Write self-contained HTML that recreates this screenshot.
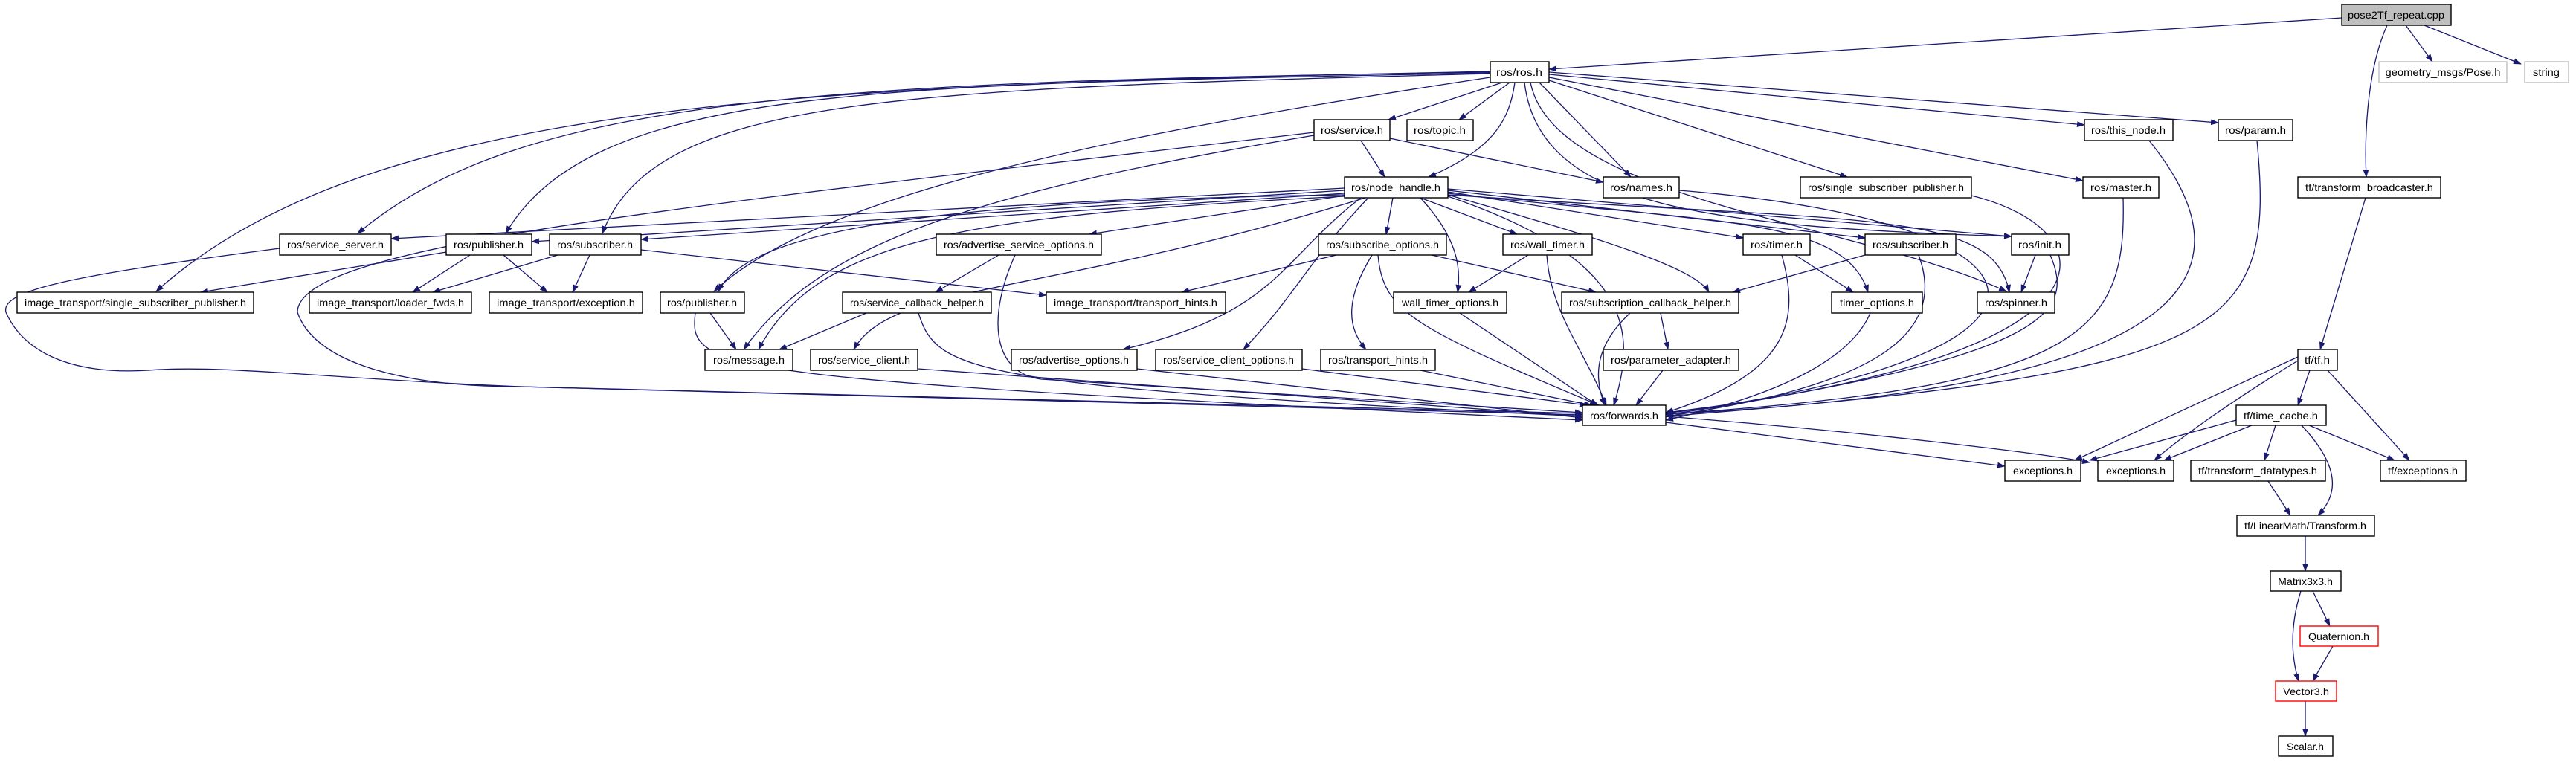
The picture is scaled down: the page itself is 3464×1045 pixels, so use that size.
<!DOCTYPE html>
<html><head><meta charset="utf-8"><style>
html,body{margin:0;padding:0;background:#fff}
svg{display:block}
.e{fill:none;stroke:#191970;stroke-width:1.3}
.n{fill:#fff;stroke:#000;stroke-width:1.4}
text{font-family:"Liberation Sans",sans-serif;font-size:14px;fill:#000;text-anchor:middle}
</style></head><body>
<svg width="3464" height="1045" viewBox="0 0 3464 1045" xmlns="http://www.w3.org/2000/svg">
<defs><marker id="a" markerWidth="11" markerHeight="8" refX="10" refY="4" orient="auto" markerUnits="userSpaceOnUse"><path d="M0,0 L11,4 L0,8 z" fill="#191970"/></marker></defs>
<g class="e" marker-end="url(#a)">
<path d="M3149 24 L2083 93"/>
<path d="M3235 34 L3271 83"/>
<path d="M3260 34 L3390 86"/>
<path d="M3210 34 C3180 100 3180 200 3182 238"/>
<path d="M2004 97 C1100 110 700 130 481 314"/>
<path d="M2004 96 C1100 115 500 130 210 392"/>
<path d="M2004 98 C1200 115 800 110 680 314"/>
<path d="M2004 99 C1200 120 880 130 810 314"/>
<path d="M2004 104 C1500 180 1100 260 960 392"/>
<path d="M2020 111 L1867 161"/>
<path d="M2030 111 L1962 161"/>
<path d="M2037 111 C2030 160 2010 200 1921 238"/>
<path d="M2070 111 L2193 238"/>
<path d="M2083 100 L2803 168"/>
<path d="M2083 97 L2983 165"/>
<path d="M2083 108 L2484 238"/>
<path d="M2083 104 L2801 243"/>
<path d="M2050 111 C2070 280 2300 305 2705 318"/>
<path d="M2058 111 C2090 270 2500 300 2698 392"/>
<path d="M1830 189 L1862 238"/>
<path d="M1869 186 L2156 245"/>
<path d="M1767 178 C900 280 400 330 400 420 C420 480 520 520 700 520 L2128 556"/>
<path d="M376 334 C100 370 0 390 8 420 C30 470 90 505 200 498 C300 490 450 510 700 520 L2128 558"/>
<path d="M1767 182 C1300 260 1100 330 1000 470"/>
<path d="M600 339 L270 393"/>
<path d="M632 343 L555 393"/>
<path d="M677 343 L736 393"/>
<path d="M750 343 L582 393"/>
<path d="M793 343 L770 393"/>
<path d="M862 336 L1407 397"/>
<path d="M1808 253 L526 321"/>
<path d="M1808 256 L715 325"/>
<path d="M1808 260 L862 322"/>
<path d="M1808 262 C1200 270 1000 320 966 392"/>
<path d="M1808 264 C1300 290 1100 320 1020 470"/>
<path d="M1808 263 L1465 315"/>
<path d="M1873 266 L1864 315"/>
<path d="M1910 266 L2040 315"/>
<path d="M1910 266 C1960 320 1965 360 1960 393"/>
<path d="M1836 266 C1400 400 1200 380 1148 470"/>
<path d="M1830 266 C1720 350 1720 420 1510 470"/>
<path d="M1840 266 C1760 350 1740 400 1672 470"/>
<path d="M1947 262 C2150 320 2280 360 2298 393"/>
<path d="M1947 264 C2200 350 2200 450 2170 545"/>
<path d="M1947 258 L2344 320"/>
<path d="M1947 256 L2508 320"/>
<path d="M1947 254 L2705 318"/>
<path d="M1947 262 C2500 300 2680 280 2702 393"/>
<path d="M1947 260 C2300 300 2480 290 2512 393"/>
<path d="M1343 343 L1258 393"/>
<path d="M1365 343 C1330 420 1330 500 1400 510 L2128 555"/>
<path d="M1797 343 L1589 393"/>
<path d="M1925 343 L2146 393"/>
<path d="M1845 343 C1810 400 1810 440 1837 470"/>
<path d="M1853 343 C1860 420 1900 440 2150 545"/>
<path d="M2055 343 L1975 393"/>
<path d="M2080 343 C2085 420 2130 470 2160 545"/>
<path d="M1963 421 L2148 545"/>
<path d="M1165 421 L1048 470"/>
<path d="M1235 421 C1260 500 1300 520 2128 560"/>
<path d="M955 421 L990 470"/>
<path d="M935 421 C925 500 960 510 2128 565"/>
<path d="M1234 496 L2128 560"/>
<path d="M1529 496 L2128 562"/>
<path d="M1751 496 L2134 545"/>
<path d="M1910 498 L2140 545"/>
<path d="M2233 421 L2243 470"/>
<path d="M2192 421 C2150 460 2140 500 2158 545"/>
<path d="M2236 498 L2200 545"/>
<path d="M2414 343 L2492 393"/>
<path d="M2396 343 C2420 430 2410 500 2240 555"/>
<path d="M2508 343 L2330 393"/>
<path d="M2580 343 C2620 450 2520 520 2240 560"/>
<path d="M2515 421 C2490 480 2400 530 2240 565"/>
<path d="M2737 343 L2718 393"/>
<path d="M2757 343 C2790 420 2760 480 2240 558"/>
<path d="M2651 263 C2840 310 2870 480 2240 555"/>
<path d="M2855 266 C2860 450 2800 520 2240 557"/>
<path d="M2890 189 C3020 350 3000 520 2240 557"/>
<path d="M3035 189 C3060 450 3000 500 2240 560"/>
<path d="M2258 256 C2800 300 2830 480 2240 556"/>
<path d="M2240 568 L2696 627"/>
<path d="M2240 560 C2500 580 2750 610 2810 622"/>
<path d="M3181 266 L3120 470"/>
<path d="M3090 480 L2790 619"/>
<path d="M3090 485 C3000 540 2930 590 2897 619"/>
<path d="M3106 498 L3090 545"/>
<path d="M3130 498 L3240 619"/>
<path d="M3007 565 L2810 619"/>
<path d="M3028 572 L2910 619"/>
<path d="M3060 572 L3045 619"/>
<path d="M3105 572 L3220 619"/>
<path d="M3095 572 C3140 620 3150 660 3117 693"/>
<path d="M3050 647 L3080 693"/>
<path d="M3100 721 L3100 768"/>
<path d="M3110 795 L3133 842"/>
<path d="M3094 795 C3080 840 3080 880 3091 916"/>
<path d="M3137 869 L3110 916"/>
<path d="M3100 943 L3100 990"/>
</g>
<g>
<rect x="3149" y="6" width="147" height="28" fill="#bfbfbf" stroke="#000" stroke-width="1.4"/><text x="3222" y="25" textLength="130" lengthAdjust="spacingAndGlyphs">pose2Tf_repeat.cpp</text>
<rect x="3199" y="83" width="172" height="28" fill="#fff" stroke="#bfbfbf" stroke-width="1.4"/><text x="3285" y="102" textLength="155" lengthAdjust="spacingAndGlyphs">geometry_msgs/Pose.h</text>
<rect x="3395" y="83" width="59" height="28" fill="#fff" stroke="#bfbfbf" stroke-width="1.4"/><text x="3424" y="102" textLength="36" lengthAdjust="spacingAndGlyphs">string</text>
<rect class="n" x="2004" y="83" width="79" height="28"/><text x="2043" y="102" textLength="62" lengthAdjust="spacingAndGlyphs">ros/ros.h</text>
<rect class="n" x="1767" y="161" width="102" height="28"/><text x="1818" y="180" textLength="84" lengthAdjust="spacingAndGlyphs">ros/service.h</text>
<rect class="n" x="1892" y="161" width="89" height="28"/><text x="1936" y="180" textLength="70" lengthAdjust="spacingAndGlyphs">ros/topic.h</text>
<rect class="n" x="2803" y="161" width="119" height="28"/><text x="2862" y="180" textLength="100" lengthAdjust="spacingAndGlyphs">ros/this_node.h</text>
<rect class="n" x="2983" y="161" width="100" height="28"/><text x="3033" y="180" textLength="82" lengthAdjust="spacingAndGlyphs">ros/param.h</text>
<rect class="n" x="1808" y="238" width="139" height="28"/><text x="1877" y="257" textLength="120" lengthAdjust="spacingAndGlyphs">ros/node_handle.h</text>
<rect class="n" x="2156" y="238" width="102" height="28"/><text x="2207" y="257" textLength="84" lengthAdjust="spacingAndGlyphs">ros/names.h</text>
<rect class="n" x="2421" y="238" width="230" height="28"/><text x="2536" y="257" textLength="210" lengthAdjust="spacingAndGlyphs">ros/single_subscriber_publisher.h</text>
<rect class="n" x="2801" y="238" width="102" height="28"/><text x="2852" y="257" textLength="82" lengthAdjust="spacingAndGlyphs">ros/master.h</text>
<rect class="n" x="3090" y="238" width="192" height="28"/><text x="3186" y="257" textLength="172" lengthAdjust="spacingAndGlyphs">tf/transform_broadcaster.h</text>
<rect class="n" x="376" y="315" width="150" height="28"/><text x="451" y="334" textLength="130" lengthAdjust="spacingAndGlyphs">ros/service_server.h</text>
<rect class="n" x="600" y="315" width="115" height="28"/><text x="657" y="334" textLength="94" lengthAdjust="spacingAndGlyphs">ros/publisher.h</text>
<rect class="n" x="739" y="315" width="123" height="28"/><text x="800" y="334" textLength="102" lengthAdjust="spacingAndGlyphs">ros/subscriber.h</text>
<rect class="n" x="1259" y="315" width="222" height="28"/><text x="1370" y="334" textLength="202" lengthAdjust="spacingAndGlyphs">ros/advertise_service_options.h</text>
<rect class="n" x="1773" y="315" width="172" height="28"/><text x="1859" y="334" textLength="152" lengthAdjust="spacingAndGlyphs">ros/subscribe_options.h</text>
<rect class="n" x="2021" y="315" width="120" height="28"/><text x="2081" y="334" textLength="100" lengthAdjust="spacingAndGlyphs">ros/wall_timer.h</text>
<rect class="n" x="2344" y="315" width="90" height="28"/><text x="2389" y="334" textLength="70" lengthAdjust="spacingAndGlyphs">ros/timer.h</text>
<rect class="n" x="2508" y="315" width="122" height="28"/><text x="2569" y="334" textLength="102" lengthAdjust="spacingAndGlyphs">ros/subscriber.h</text>
<rect class="n" x="2705" y="315" width="77" height="28"/><text x="2743" y="334" textLength="58" lengthAdjust="spacingAndGlyphs">ros/init.h</text>
<rect class="n" x="23" y="393" width="318" height="28"/><text x="182" y="412" textLength="298" lengthAdjust="spacingAndGlyphs">image_transport/single_subscriber_publisher.h</text>
<rect class="n" x="416" y="393" width="218" height="28"/><text x="525" y="412" textLength="198" lengthAdjust="spacingAndGlyphs">image_transport/loader_fwds.h</text>
<rect class="n" x="658" y="393" width="206" height="28"/><text x="761" y="412" textLength="186" lengthAdjust="spacingAndGlyphs">image_transport/exception.h</text>
<rect class="n" x="888" y="393" width="113" height="28"/><text x="944" y="412" textLength="94" lengthAdjust="spacingAndGlyphs">ros/publisher.h</text>
<rect class="n" x="1133" y="393" width="200" height="28"/><text x="1233" y="412" textLength="180" lengthAdjust="spacingAndGlyphs">ros/service_callback_helper.h</text>
<rect class="n" x="1407" y="393" width="241" height="28"/><text x="1527" y="412" textLength="220" lengthAdjust="spacingAndGlyphs">image_transport/transport_hints.h</text>
<rect class="n" x="1874" y="393" width="152" height="28"/><text x="1950" y="412" textLength="130" lengthAdjust="spacingAndGlyphs">wall_timer_options.h</text>
<rect class="n" x="2100" y="393" width="238" height="28"/><text x="2219" y="412" textLength="218" lengthAdjust="spacingAndGlyphs">ros/subscription_callback_helper.h</text>
<rect class="n" x="2463" y="393" width="122" height="28"/><text x="2524" y="412" textLength="100" lengthAdjust="spacingAndGlyphs">timer_options.h</text>
<rect class="n" x="2659" y="393" width="104" height="28"/><text x="2711" y="412" textLength="84" lengthAdjust="spacingAndGlyphs">ros/spinner.h</text>
<rect class="n" x="948" y="470" width="118" height="28"/><text x="1007" y="489" textLength="96" lengthAdjust="spacingAndGlyphs">ros/message.h</text>
<rect class="n" x="1090" y="470" width="144" height="28"/><text x="1162" y="489" textLength="124" lengthAdjust="spacingAndGlyphs">ros/service_client.h</text>
<rect class="n" x="1360" y="470" width="169" height="28"/><text x="1444" y="489" textLength="148" lengthAdjust="spacingAndGlyphs">ros/advertise_options.h</text>
<rect class="n" x="1554" y="470" width="197" height="28"/><text x="1652" y="489" textLength="176" lengthAdjust="spacingAndGlyphs">ros/service_client_options.h</text>
<rect class="n" x="1776" y="470" width="154" height="28"/><text x="1853" y="489" textLength="134" lengthAdjust="spacingAndGlyphs">ros/transport_hints.h</text>
<rect class="n" x="2156" y="470" width="182" height="28"/><text x="2247" y="489" textLength="162" lengthAdjust="spacingAndGlyphs">ros/parameter_adapter.h</text>
<rect class="n" x="3090" y="470" width="53" height="28"/><text x="3116" y="489" textLength="34" lengthAdjust="spacingAndGlyphs">tf/tf.h</text>
<rect class="n" x="2128" y="545" width="112" height="27"/><text x="2184" y="564" textLength="92" lengthAdjust="spacingAndGlyphs">ros/forwards.h</text>
<rect class="n" x="3007" y="545" width="121" height="27"/><text x="3067" y="564" textLength="100" lengthAdjust="spacingAndGlyphs">tf/time_cache.h</text>
<rect class="n" x="2696" y="619" width="102" height="28"/><text x="2747" y="638" textLength="80" lengthAdjust="spacingAndGlyphs">exceptions.h</text>
<rect class="n" x="2821" y="619" width="102" height="28"/><text x="2872" y="638" textLength="80" lengthAdjust="spacingAndGlyphs">exceptions.h</text>
<rect class="n" x="2946" y="619" width="181" height="28"/><text x="3036" y="638" textLength="160" lengthAdjust="spacingAndGlyphs">tf/transform_datatypes.h</text>
<rect class="n" x="3201" y="619" width="115" height="28"/><text x="3258" y="638" textLength="94" lengthAdjust="spacingAndGlyphs">tf/exceptions.h</text>
<rect class="n" x="3008" y="693" width="185" height="28"/><text x="3100" y="712" textLength="164" lengthAdjust="spacingAndGlyphs">tf/LinearMath/Transform.h</text>
<rect class="n" x="3053" y="768" width="95" height="27"/><text x="3100" y="787" textLength="74" lengthAdjust="spacingAndGlyphs">Matrix3x3.h</text>
<rect x="3093" y="842" width="105" height="27" fill="#fff" stroke="#ff0000" stroke-width="1.4"/><text x="3145" y="861" textLength="82" lengthAdjust="spacingAndGlyphs">Quaternion.h</text>
<rect x="3060" y="916" width="82" height="27" fill="#fff" stroke="#ff0000" stroke-width="1.4"/><text x="3101" y="935" textLength="62" lengthAdjust="spacingAndGlyphs">Vector3.h</text>
<rect class="n" x="3064" y="990" width="73" height="27"/><text x="3100" y="1009" textLength="50" lengthAdjust="spacingAndGlyphs">Scalar.h</text>
</g>
</svg>
</body></html>
